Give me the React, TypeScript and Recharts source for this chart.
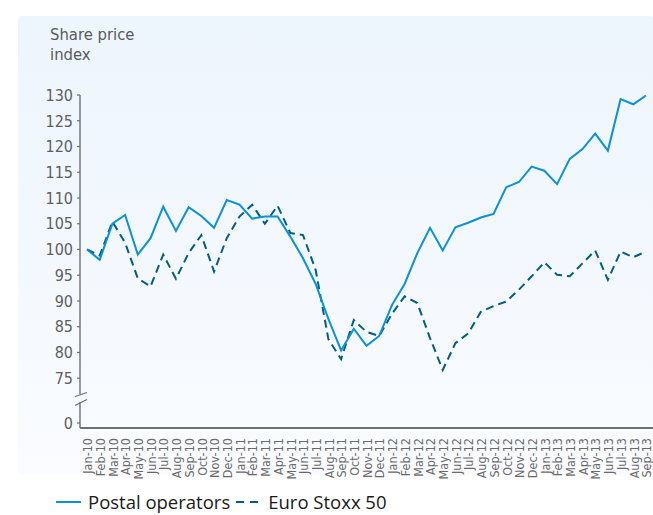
import React from "react";
import { LineChart, Line, XAxis, YAxis } from "recharts";

const months: string[] = [
  "Jan-10","Feb-10","Mar-10","Apr-10","May-10","Jun-10","Jul-10","Aug-10","Sep-10","Oct-10","Nov-10","Dec-10",
  "Jan-11","Feb-11","Mar-11","Apr-11","May-11","Jun-11","Jul-11","Aug-11","Sep-11","Oct-11","Nov-11","Dec-11",
  "Jan-12","Feb-12","Mar-12","Apr-12","May-12","Jun-12","Jul-12","Aug-12","Sep-12","Oct-12","Nov-12","Dec-12",
  "Jan-13","Feb-13","Mar-13","Apr-13","May-13","Jun-13","Jul-13","Aug-13","Sep-13",
];

const postalOperators: number[] = [
  100, 98.0, 105.0, 106.7, 99.0, 102.2, 108.3, 103.6, 108.2, 106.5, 104.2, 109.6,
  108.7, 106.0, 106.4, 106.4, 102.5, 98.3, 93.3, 86.5, 80.4, 84.6, 81.3, 83.2,
  89.2, 93.3, 99.3, 104.2, 99.8, 104.3, 105.2, 106.2, 106.9, 112.1, 113.1, 116.1,
  115.3, 112.7, 117.6, 119.5, 122.5, 119.2, 129.2, 128.2, 129.9,
];

const euroStoxx50: number[] = [
  100, 98.8, 105.4, 101.3, 94.4, 92.8, 99.0, 94.3, 99.3, 102.8, 95.7, 102.2,
  106.4, 108.7, 105.0, 108.5, 103.2, 102.8, 96.0, 82.6, 78.7, 86.3, 84.0, 83.2,
  87.5, 90.9, 89.6, 82.8, 76.6, 81.8, 83.7, 87.9, 89.0, 89.9, 92.2, 94.8,
  97.5, 95.1, 94.8, 97.3, 99.8, 94.1, 99.6, 98.5, 99.6,
];

const seriesNames: string[] = ["Postal operators", "Euro Stoxx 50"];
const yTickValues: number[] = [75, 80, 85, 90, 95, 100, 105, 110, 115, 120, 125, 130];
const ZERO_POS = 66.3; // position on the broken axis where "0" is shown
const Y_MIN = 65.33;
const Y_MAX = 130;

const data = months.map((m, i) => ({
  month: m,
  postal: postalOperators[i],
  stoxx: euroStoxx50[i],
}));

const SOLID = "#0a91d6";
const DASHED = "#005e80";
const AXIS = "#6f6f6f";
const TICK_TEXT = "#5f5f5f";
const COND = "'Liberation Sans Narrow', 'DejaVu Sans Condensed', 'Roboto', sans-serif";

const TICK_SIZE = 3;
const TICK_MARGIN = 4;

const YTick = (props: any) => {
  const { x, y, payload } = props;
  const v = payload.value;
  const isZero = v < 70;
  const axisX = x + TICK_SIZE + TICK_MARGIN;
  return (
    <g>
      <text
        x={x}
        y={y}
        dy="0.36em"
        textAnchor="end"
        fill={TICK_TEXT}
        fontSize={16}
        fontFamily={COND}
      >
        {isZero ? "0" : String(v)}
      </text>
      {isZero && (
        <g>
          <rect x={axisX - 2} y={y - 29} width={4} height={8} fill="#f5f9fe" />
          <line x1={axisX - 5} y1={y - 26.5} x2={axisX + 7} y2={y - 30.5} stroke={AXIS} strokeWidth={1.3} />
          <line x1={axisX - 5} y1={y - 17.5} x2={axisX + 7} y2={y - 23.5} stroke={AXIS} strokeWidth={1.3} />
        </g>
      )}
    </g>
  );
};

const XTick = (props: any) => {
  const { x, y, payload } = props;
  return (
    <text
      x={x}
      y={y}
      dy="0.42em"
      transform={`rotate(-90, ${x}, ${y})`}
      textAnchor="end"
      fill="#6a6a6a"
      fontSize={12.5}
      fontFamily={COND}
    >
      {payload.value}
    </text>
  );
};

export default function App() {
  return (
    <div
      style={{
        position: "absolute",
        left: 0,
        top: 0,
        width: 653,
        height: 515,
        background: "#ffffff",
        overflow: "hidden",
      }}
    >
      <div
        style={{
          position: "absolute",
          left: 18,
          top: 16,
          width: 635,
          height: 459,
          background: "linear-gradient(to bottom, #edf5fd 0%, #f3f8fe 50%, #fafcff 100%)",
          borderRadius: 3,
        }}
      />
      <div
        style={{
          position: "absolute",
          left: 50,
          top: 25,
          fontFamily: COND,
          fontSize: 16.5,
          color: "#5a5a5a",
          lineHeight: "20px",
        }}
      >
        Share price
        <br />
        index
      </div>
      <div style={{ position: "absolute", left: 0, top: 0 }}>
        <LineChart
          width={653}
          height={515}
          data={data}
          margin={{ top: 95, right: 0, bottom: 42, left: 20 }}
        >
          <XAxis
            dataKey="month"
            interval={0}
            tickLine={false}
            tickSize={0}
            tickMargin={10}
            height={45}
            padding={{ left: 7, right: 7 }}
            axisLine={{ stroke: AXIS, strokeWidth: 2 }}
            tick={<XTick />}
          />
          <YAxis
            type="number"
            domain={[Y_MIN, Y_MAX]}
            ticks={[ZERO_POS, ...yTickValues]}
            interval={0}
            width={60}
            tickSize={TICK_SIZE}
            tickMargin={TICK_MARGIN}
            axisLine={{ stroke: AXIS, strokeWidth: 1.4 }}
            tickLine={{ stroke: AXIS, strokeWidth: 1.2 }}
            tick={<YTick />}
            allowDataOverflow
          />
          <Line
            type="linear"
            dataKey="stoxx"
            name={seriesNames[1]}
            stroke={DASHED}
            strokeWidth={2}
            strokeDasharray="8 5"
            dot={false}
            activeDot={false}
            isAnimationActive={false}
          />
          <Line
            type="linear"
            dataKey="postal"
            name={seriesNames[0]}
            stroke={SOLID}
            strokeWidth={2}
            dot={false}
            activeDot={false}
            isAnimationActive={false}
          />
        </LineChart>
      </div>
      <div
        style={{
          position: "absolute",
          left: 56,
          top: 492,
          display: "flex",
          alignItems: "center",
          fontFamily: "'Open Sans', sans-serif",
          fontSize: 18.5,
          color: "#1a1a1a",
          whiteSpace: "nowrap",
          lineHeight: "20px",
          height: 20,
        }}
      >
        <svg width={26} height={10} style={{ marginRight: 6 }}>
          <line x1={0} y1={5} x2={25} y2={5} stroke={SOLID} strokeWidth={2} />
        </svg>
        <span>{seriesNames[0]}</span>
        <svg width={26} height={10} style={{ marginLeft: 6, marginRight: 6 }}>
          <line x1={0} y1={5} x2={25} y2={5} stroke={DASHED} strokeWidth={2} strokeDasharray="8 6" />
        </svg>
        <span>{seriesNames[1]}</span>
      </div>
    </div>
  );
}
